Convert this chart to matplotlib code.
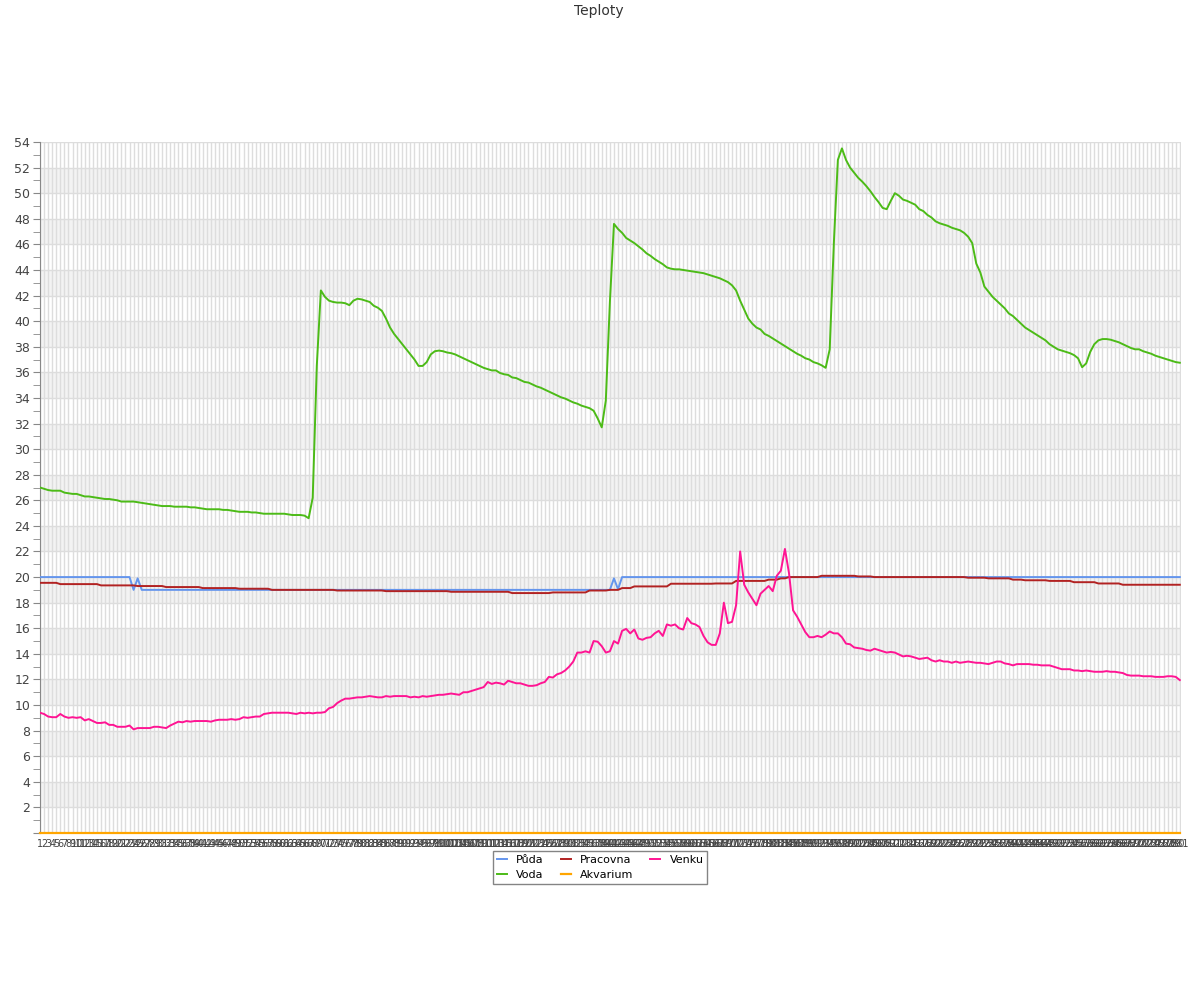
import numpy as np
import matplotlib
matplotlib.use("Agg")
import matplotlib.pyplot as plt
from matplotlib.ticker import MultipleLocator

labels = [str(i) for i in range(1, 282)]

voda = [
    27.0, 26.9, 26.8, 26.75, 26.75, 26.75, 26.6, 26.55, 26.5, 26.5,
    26.4, 26.3, 26.3, 26.25, 26.2, 26.15, 26.1, 26.1, 26.05, 26.0,
    25.9, 25.9, 25.9, 25.9, 25.85, 25.8, 25.75, 25.7, 25.65, 25.6,
    25.55, 25.55, 25.55, 25.5, 25.5, 25.5, 25.5, 25.45, 25.45, 25.4,
    25.35, 25.3, 25.3, 25.3, 25.3, 25.25, 25.25, 25.2, 25.15, 25.1,
    25.1, 25.1, 25.05, 25.05, 25.0, 24.95, 24.95, 24.95, 24.95, 24.95,
    24.95, 24.9, 24.85, 24.85, 24.85, 24.8, 24.6, 26.2, 36.5, 42.4,
    41.9, 41.6, 41.5, 41.45, 41.45, 41.4, 41.25, 41.6, 41.75, 41.7,
    41.6, 41.5, 41.2, 41.05, 40.8, 40.2, 39.5, 39.0, 38.6, 38.2,
    37.8, 37.4, 37.0, 36.5, 36.5, 36.8, 37.4, 37.65, 37.7, 37.65,
    37.55, 37.5, 37.4, 37.25, 37.1, 36.95, 36.8, 36.65, 36.5, 36.35,
    36.25, 36.15, 36.15, 35.95, 35.85, 35.8, 35.6, 35.55, 35.4, 35.25,
    35.2, 35.05, 34.9, 34.8, 34.65, 34.5, 34.35, 34.2, 34.05, 33.95,
    33.8, 33.65, 33.55, 33.4, 33.3, 33.2, 33.0, 32.4, 31.7, 33.8,
    41.5, 47.6, 47.2, 46.9, 46.5, 46.3, 46.1, 45.85, 45.6, 45.3,
    45.1, 44.85, 44.65, 44.45, 44.2, 44.1, 44.05, 44.05, 44.0, 43.95,
    43.9, 43.85, 43.8, 43.75, 43.65, 43.55, 43.45, 43.35, 43.2, 43.05,
    42.8, 42.4, 41.6, 40.9, 40.2, 39.8, 39.5, 39.35, 39.0, 38.85,
    38.65, 38.45, 38.25, 38.05, 37.85, 37.65, 37.45, 37.3, 37.1, 37.0,
    36.8, 36.7, 36.55, 36.35, 37.8, 46.0, 52.6, 53.5, 52.6, 52.0,
    51.6, 51.2, 50.9, 50.55, 50.15, 49.7, 49.3, 48.85, 48.75, 49.4,
    50.0, 49.8, 49.5, 49.4, 49.25, 49.1, 48.75, 48.6, 48.3, 48.1,
    47.8, 47.65, 47.55, 47.45, 47.3, 47.2, 47.1, 46.9, 46.6, 46.1,
    44.5, 43.8, 42.7, 42.3, 41.9, 41.6, 41.3, 41.0, 40.6, 40.4,
    40.1, 39.8, 39.5, 39.3, 39.1, 38.9, 38.7, 38.5, 38.2, 38.0,
    37.8, 37.7, 37.6, 37.5, 37.35, 37.1, 36.4, 36.7, 37.6, 38.2,
    38.5, 38.6, 38.6, 38.55, 38.45, 38.35, 38.2, 38.05, 37.9, 37.8,
    37.8, 37.65, 37.55, 37.45, 37.3, 37.2, 37.1, 37.0, 36.9, 36.8, 36.75,
]

venku = [
    9.4, 9.3, 9.1, 9.05, 9.05, 9.3, 9.1, 9.0, 9.05, 9.0,
    9.05, 8.8, 8.9, 8.75, 8.6, 8.6, 8.65, 8.45, 8.45, 8.3,
    8.3, 8.3, 8.4, 8.1, 8.2, 8.2, 8.2, 8.2, 8.3, 8.3,
    8.25, 8.2, 8.4, 8.55, 8.7, 8.65, 8.75, 8.7, 8.75, 8.75,
    8.75, 8.75, 8.7, 8.8, 8.85, 8.85, 8.85, 8.9, 8.85, 8.9,
    9.05, 9.0, 9.05, 9.1, 9.1, 9.3, 9.35, 9.4, 9.4, 9.4,
    9.4, 9.4, 9.35, 9.3, 9.4, 9.35, 9.4, 9.35, 9.4, 9.4,
    9.45, 9.75, 9.85, 10.15, 10.35, 10.5, 10.5, 10.55, 10.6, 10.6,
    10.65, 10.7, 10.65, 10.6, 10.6, 10.7, 10.65, 10.7, 10.7, 10.7,
    10.7, 10.6, 10.65, 10.6, 10.7, 10.65, 10.7, 10.75, 10.8, 10.8,
    10.85, 10.9, 10.85, 10.8, 11.0, 11.0, 11.1, 11.2, 11.3, 11.4,
    11.8, 11.65, 11.75, 11.7, 11.6, 11.9, 11.8, 11.7, 11.7, 11.6,
    11.5, 11.5, 11.55, 11.7, 11.8, 12.2, 12.15, 12.4, 12.5, 12.7,
    13.0, 13.4, 14.1, 14.1, 14.2, 14.1, 15.0, 14.95, 14.6, 14.1,
    14.2, 15.0, 14.8, 15.8, 15.95, 15.6, 15.9, 15.2, 15.1, 15.25,
    15.3, 15.6, 15.8, 15.4, 16.3, 16.2, 16.3, 16.0, 15.9, 16.8,
    16.4, 16.3, 16.1, 15.4, 14.9, 14.7, 14.7, 15.6, 18.0, 16.4,
    16.5, 17.8, 22.0, 19.4, 18.8, 18.3, 17.8, 18.7, 19.0, 19.3,
    18.9, 20.1, 20.5, 22.2, 20.3, 17.4, 16.9, 16.3, 15.7, 15.3,
    15.3, 15.4, 15.3, 15.5, 15.75, 15.6, 15.6, 15.3, 14.8, 14.75,
    14.5, 14.45, 14.4, 14.3, 14.25, 14.4, 14.3, 14.2, 14.1, 14.15,
    14.1, 13.95, 13.8, 13.85, 13.8, 13.7, 13.6, 13.65, 13.7, 13.5,
    13.4, 13.5, 13.4, 13.4, 13.3, 13.4, 13.3, 13.35, 13.4, 13.35,
    13.3, 13.3, 13.25, 13.2, 13.3, 13.4, 13.4, 13.25, 13.2, 13.1,
    13.2, 13.2, 13.2, 13.2, 13.15, 13.15, 13.1, 13.1, 13.1, 13.0,
    12.9, 12.8, 12.8, 12.8, 12.7, 12.7, 12.65, 12.7, 12.65, 12.6,
    12.6, 12.6, 12.65, 12.6, 12.6, 12.55, 12.5, 12.35, 12.3, 12.3,
    12.3, 12.25, 12.25, 12.25, 12.2, 12.2, 12.2, 12.25, 12.25, 12.2, 11.95,
]

# runs of constant readings (value, how many samples)
puda_levels = [20.0, 19.0, 19.9, 19.0, 19.9, 19.05, 20.0]
puda_counts = [23, 1, 1, 116, 1, 1, 138]

pracovna_levels = [19.55, 19.45, 19.35, 19.3, 19.22, 19.14, 19.09, 19.0, 18.95, 18.9,
                   18.85, 18.75, 18.8, 18.95, 19.0, 19.14, 19.27, 19.48, 19.5, 19.7,
                   19.8, 19.9, 20.0, 20.1, 20.05, 20.0, 19.95, 19.9, 19.8, 19.75,
                   19.7, 19.6, 19.5, 19.4]
pracovna_counts = [5, 10, 9, 7, 9, 9, 8, 16, 12, 16,
                   15, 10, 9, 5, 3, 3, 9, 11, 5, 8,
                   3, 2, 8, 9, 4, 23, 5, 6, 3, 6,
                   6, 6, 6, 15]

akvarium = [0.0] * 281

puda = np.repeat(puda_levels, puda_counts)
pracovna = np.repeat(pracovna_levels, pracovna_counts)

x = np.arange(len(labels))

fig = plt.figure(figsize=(12, 10), dpi=100)
ax = fig.add_axes([0.0333, 0.167, 0.9509, 0.691])

# alternating bands
for lo in range(2, 54, 4):
    ax.axhspan(lo, lo + 2, color="#f3f3f3", zorder=0, lw=0)

ax.set_xticks(x)
ax.set_xticklabels(labels, fontsize=7, color="#444444")
ax.tick_params(axis="x", length=0, pad=4)
ax.grid(True, axis="x", color="#dddddd", lw=1, zorder=1)
ax.grid(True, axis="y", which="major", color="#dddddd", lw=1, zorder=1)

ax.plot(x, puda, color="#6495ed", lw=1.4, label="Půda", zorder=3)
ax.plot(x, voda, color="#4cbb17", lw=1.4, label="Voda", zorder=3)
ax.plot(x, pracovna, color="#b22222", lw=1.4, label="Pracovna", zorder=3)
ax.plot(x, akvarium, color="#ffa500", lw=1.6, label="Akvarium", zorder=4, clip_on=False)
ax.plot(x, venku, color="#ff1493", lw=1.4, label="Venku", zorder=3)

ax.set_xlim(0, 280.3)
ax.set_ylim(0, 54)
ax.yaxis.set_minor_locator(MultipleLocator(1))
ax.set_yticks(np.arange(0, 55, 2))
ax.set_yticklabels(["" if v == 0 else str(v) for v in range(0, 55, 2)])
ax.tick_params(axis="y", which="both", direction="out", length=5, color="#888888",
               labelsize=9, labelcolor="#444444", pad=2)

for s in ["top", "right", "bottom"]:
    ax.spines[s].set_visible(False)
ax.spines["left"].set_color("#888888")

fig.text(0.4992, 0.989, "Teploty", ha="center", va="center", fontsize=10, color="#333333")

leg = ax.legend(loc="upper center", bbox_to_anchor=(0.491, -0.0255), ncol=3,
                fontsize=8, frameon=True, fancybox=False, handlelength=0.9,
                handletextpad=0.85, columnspacing=1.5, labelspacing=0.5,
                borderpad=0.35, borderaxespad=0)
leg.get_frame().set_edgecolor("#666666")
leg.get_frame().set_linewidth(1)

fig.savefig("out.png", dpi=100)
